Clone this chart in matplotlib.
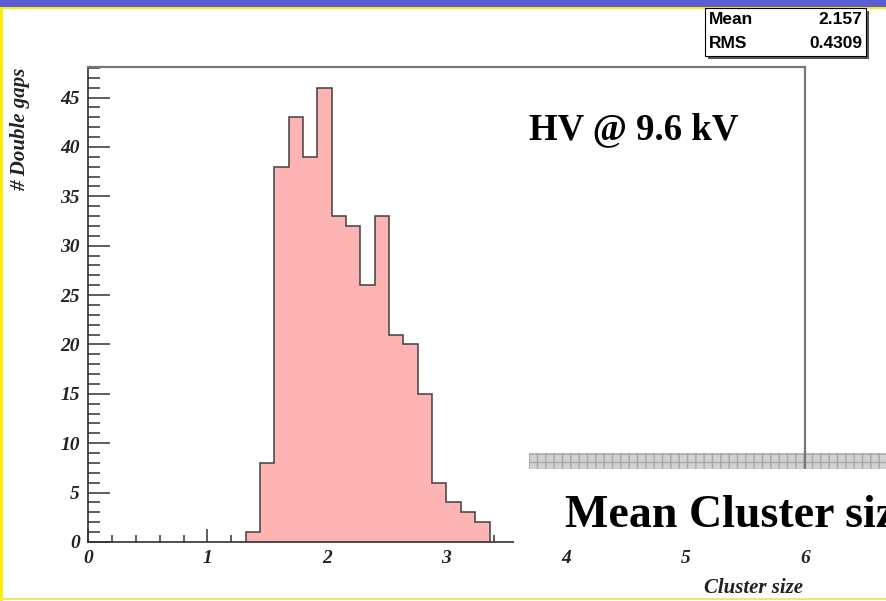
#!/usr/bin/env python
# cluster_size.py
# double gap cluster size histogram on a slide background

import matplotlib
matplotlib.use('Agg')

import matplotlib.pyplot as plt
import matplotlib.patches as mpatches
import matplotlib.ticker as mticker
import numpy as np

# histogram: 50 bins between 0 and 6, filled bins start at bin 11
bin_width = 0.12
first_bin = 11
counts = [1, 8, 38, 43, 39, 46, 33, 32, 26, 33, 21, 20, 15, 6, 4, 3, 2]
x_ticks = [0, 1, 2, 3, 4, 5, 6]
y_ticks = [0, 5, 10, 15, 20, 25, 30, 35, 40, 45]
stat_names = ['Mean', 'RMS']
stat_values = ['2.157', '0.4309']
hv_label = 'HV @ 9.6 kV'
slide_title = 'Mean Cluster size'

W, H = 886.0, 601.0
edges = first_bin * bin_width + bin_width * np.arange(len(counts) + 1)

serif_bi = dict(family='Liberation Serif', weight='bold', style='italic')
serif_b = dict(family='Liberation Serif', weight='bold')

fig = plt.figure(figsize=(W / 100, H / 100), dpi=100)
fig.patch.set_facecolor('white')

def px_rect(x0, y0, x1, y1, **kw):
    # rectangle given in pixels from the top left corner
    r = mpatches.Rectangle((x0 / W, 1 - y1 / H), (x1 - x0) / W, (y1 - y0) / H,
                           transform=fig.transFigure, **kw)
    fig.patches.append(r)
    return r

# slide frame: blue header and yellow rules
px_rect(0, 0, W, 7, facecolor='#5c5cd4', edgecolor='none', zorder=-2)
px_rect(0, 7, W, 9, facecolor='#f5f000', edgecolor='none', zorder=-2)
px_rect(0, 7, 3, 601, facecolor='#f5f000', edgecolor='none', zorder=-2)
px_rect(0, 598, W, 600, facecolor='#f0ea60', edgecolor='none', zorder=-2)

# grey divider bar behind the plot
px_rect(529, 453, W, 469, facecolor='#d2d2d2', edgecolor='#a8a8a8',
        hatch='++', linewidth=0, zorder=-1)

ax = fig.add_axes([88 / W, 1 - 542 / H, (805 - 88) / W, (542 - 67) / H])
ax.patch.set_alpha(0)

ax.stairs(counts, edges, fill=True, color='#ffb4b4', zorder=2)
ax.stairs(counts, edges, baseline=0, color='#404040', linewidth=1.1, zorder=3)

ax.set_xlim(0, 6)
ax.set_ylim(0, 48.1)
ax.set_xticks(x_ticks)
ax.set_yticks(y_ticks)
ax.xaxis.set_minor_locator(mticker.MultipleLocator(0.2))
ax.yaxis.set_minor_locator(mticker.MultipleLocator(1))
ax.tick_params(axis='x', which='major', direction='in', length=9.4, width=1.1,
               color='#333333', pad=6)
ax.tick_params(axis='x', which='minor', direction='in', length=5, width=1.1,
               color='#333333')
ax.tick_params(axis='y', which='major', direction='in', length=15.8, width=1.1,
               color='#333333', pad=6)
ax.tick_params(axis='y', which='minor', direction='in', length=8.6, width=1.1,
               color='#333333')
for lab in ax.get_xticklabels() + ax.get_yticklabels():
    lab.set(fontsize=14, color='#222222', **serif_bi)

ax.spines['left'].set(color='#303030', linewidth=1.2)
ax.spines['bottom'].set(color='#303030', linewidth=1.2)
ax.spines['top'].set(color='#777777', linewidth=1.6)
ax.spines['right'].set(color='#777777', linewidth=1.6)

fig.text(20 / W, 1 - 68 / H, '# Double gaps', rotation=90, ha='center',
         va='top', fontsize=15, color='#222222', **serif_bi)
fig.text(803 / W, 1 - 588 / H, 'Cluster size', ha='right', va='center',
         fontsize=15, color='#222222', **serif_bi)

ax.text(529 / W, 1 - 139 / H, hv_label, transform=fig.transFigure,
        ha='left', va='baseline', fontsize=26.5, color='black', **serif_b)

# statistics box
px_rect(708, 11, 869, 59, facecolor='#555555', edgecolor='none', zorder=4)
px_rect(705, 8, 866, 56, facecolor='white', edgecolor='black',
        linewidth=0.8, zorder=5)
for i, (name, val) in enumerate(zip(stat_names, stat_values)):
    y = 1 - (20 + 23 * i) / H
    fig.text(709 / W, y, name, ha='left', va='center', fontsize=12.5,
             family='Liberation Sans', weight='bold', zorder=6)
    fig.text(862 / W, y, val, ha='right', va='center', fontsize=12.5,
             family='Liberation Sans', weight='bold', zorder=6)

# white text box with the slide title over the lower right corner
px_rect(514, 469, W, 549, facecolor='white', edgecolor='none', zorder=5)
fig.text(565 / W, 1 - 527 / H, slide_title, ha='left', va='baseline',
         fontsize=33, zorder=6, **serif_b)

fig.savefig('out.png', dpi=100)
